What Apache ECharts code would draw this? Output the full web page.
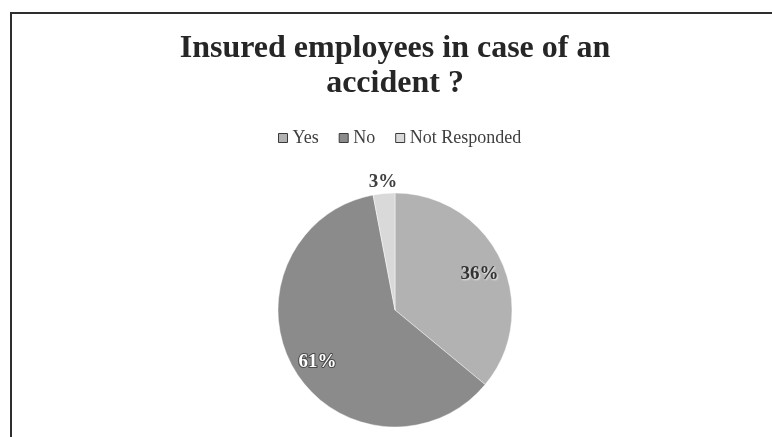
<!DOCTYPE html>
<html>
<head>
<meta charset="utf-8">
<script src="https://cdn.jsdelivr.net/npm/echarts@6/dist/echarts.min.js"></script>
<style>
  html, body { margin: 0; padding: 0; width: 772px; height: 437px; overflow: hidden; background: #fff; }
  #frame { position: absolute; left: 10px; top: 12px; width: 800px; height: 460px;
           border-left: 2px solid #2e2e2e; border-top: 2px solid #2e2e2e; }
  #chart { position: absolute; left: 0; top: 0; width: 766px; height: 423px; }
</style>
</head>
<body>
<div id="frame"><div id="chart"></div></div>
<script>
// Survey answers and their shares (percent)
const categories = ['Yes', 'No', 'Not Responded'];
const shares = [36, 61, 3];
const titleText = 'Insured employees in case of an\naccident ?';

const palette = ['#b2b2b2', '#8b8b8b', '#d9d9d9'];
const serif = '"Liberation Serif", "DejaVu Serif", serif';

const pieData = categories.map((name, i) => ({
  name: name,
  value: shares[i],
  itemStyle: { color: palette[i] }
}));

const centerPos = ['50%', 296];
const R = 117;

const chart = echarts.init(document.getElementById('chart'), null, { renderer: 'canvas' });
chart.setOption({
  animation: false,
  backgroundColor: '#fff',
  title: {
    text: titleText,
    left: 'center',
    top: 12,
    textStyle: {
      fontFamily: serif,
      fontWeight: 'bold',
      fontSize: 32,
      lineHeight: 35,
      color: '#262626'
    }
  },
  legend: {
    data: categories,
    left: 261,
    top: 110,
    icon: 'rect',
    itemWidth: 9,
    itemHeight: 9,
    itemGap: 20,
    textStyle: { fontFamily: serif, fontSize: 18, color: '#404040' },
    itemStyle: { borderColor: '#3a3a3a', borderWidth: 1 }
  },
  series: [
    {
      // the slices themselves
      type: 'pie',
      center: centerPos,
      radius: R,
      startAngle: 90,
      clockwise: true,
      silent: true,
      label: { show: false },
      labelLine: { show: false },
      itemStyle: { borderColor: 'rgba(255,255,255,0.45)', borderWidth: 1 },
      data: pieData
    },
    {
      // ring carrying the inner percentage labels
      type: 'pie',
      center: centerPos,
      radius: [64, R],
      startAngle: 90,
      clockwise: true,
      silent: true,
      legendHoverLink: false,
      itemStyle: { color: 'rgba(0,0,0,0)' },
      labelLine: { show: false },
      label: {
        show: true,
        position: 'inside',
        formatter: p => p.dataIndex === 2 ? '' : (p.dataIndex === 0 ? '{dark|' : '{light|') + p.value + '%}',
        rich: {
          dark: {
            fontFamily: serif, fontWeight: 'bold', fontSize: 19, color: '#333333', padding: [8, 0, 0, 0],
            textShadowColor: 'rgba(255,255,255,0.8)', textShadowBlur: 2, textShadowOffsetX: 1, textShadowOffsetY: 1
          },
          light: {
            fontFamily: serif, fontWeight: 'bold', fontSize: 19, color: '#ffffff', padding: [8, 0, 0, 6],
            textBorderColor: '#4a4a4a', textBorderWidth: 2
          }
        }
      },
      data: categories.map((name, i) => ({ name: name, value: shares[i] }))
    },
    {
      // ring just outside the pie for the small slice label
      type: 'pie',
      center: centerPos,
      radius: [R, R + 16],
      startAngle: 90,
      clockwise: true,
      silent: true,
      legendHoverLink: false,
      itemStyle: { color: 'rgba(0,0,0,0)' },
      labelLine: { show: false },
      label: {
        show: true,
        position: 'inside',
        formatter: p => p.dataIndex === 2 ? p.value + '%' : '',
        fontFamily: serif, fontWeight: 'bold', fontSize: 19, color: '#404040'
      },
      data: categories.map((name, i) => ({ name: name, value: shares[i] }))
    }
  ]
});
</script>
</body>
</html>
